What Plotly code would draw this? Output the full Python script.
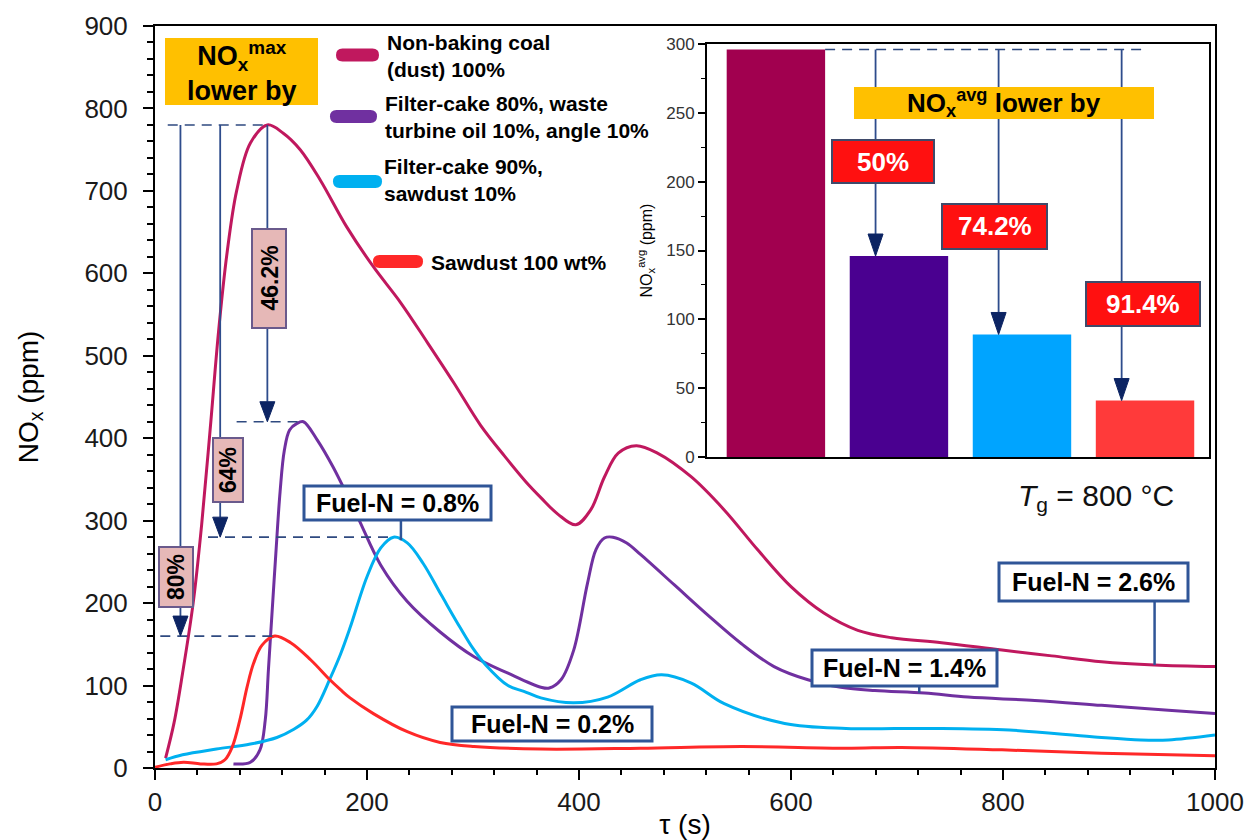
import numpy as np
import plotly.graph_objects as go

# ---------------------------------------------------------------- data
series_names = [
    "Non-baking coal<br>(dust) 100%",
    "Filter-cake 80%, waste<br>turbine oil 10%, angle 10%",
    "Filter-cake 90%,<br>sawdust 10%",
    "Sawdust 100 wt%",
]

tau_coal = [10, 18, 26, 36, 44, 52, 60, 68, 77, 90, 106, 121, 137, 156, 181, 206, 232, 257,
            282, 307, 330, 350, 364, 380, 397, 411, 424, 437, 454, 474, 506, 537, 569, 600,
            631, 663, 695, 742, 799, 846, 893, 943, 1000]
nox_coal = [12, 55, 115, 200, 295, 410, 530, 625, 700, 758, 780, 770, 750, 713, 656, 608, 564, 516,
            467, 416, 378, 347, 328, 308, 295, 313, 353, 382, 391, 382, 353, 313, 264, 220,
            188, 167, 158, 152, 143, 136, 129, 125, 123]

tau_cake_oil = [74, 90, 99, 104, 107, 110, 114, 118, 122, 127, 134, 140, 153, 168, 191, 213, 238,
                269, 301, 333, 364, 372, 383, 395, 408, 416, 424, 432, 445, 458, 490, 521, 553, 584,
                616, 647, 679, 726, 767, 830, 893, 956, 1000]
nox_cake_oil = [5, 7, 22, 58, 119, 180, 260, 335, 385, 410, 418, 420, 398, 365, 305, 246, 202,
                165, 135, 115, 98, 97, 107, 143, 224, 265, 279, 280, 273, 259, 222, 186, 151, 123,
                107, 98, 94, 91, 86, 82, 76, 70, 66]

tau_cake_saw = [10, 26, 58, 90, 115, 131, 143, 153, 165, 175, 184, 200, 213, 225, 238, 253, 270,
                288, 300, 312, 333, 348, 364, 395, 427, 458, 478, 506, 537, 594, 652, 730, 806,
                884, 930, 956, 1000]
nox_cake_saw = [10, 16, 23, 29, 37, 47, 58, 75, 108, 138, 170, 232, 267, 280, 273, 248, 210,
                170, 145, 125, 100, 93, 85, 79, 86, 107, 113, 103, 78, 54, 48, 48, 46,
                38, 34, 34, 40]

tau_sawdust = [0, 14, 27, 43, 58, 66, 73, 80, 87, 93, 101, 113, 128, 147, 165, 175, 184, 206,
               238, 269, 301, 364, 458, 553, 652, 704, 799, 893, 1000]
nox_sawdust = [1, 5, 7, 5, 5, 10, 26, 58, 99, 127, 149, 160, 152, 131, 107, 95, 85, 66,
               44, 31, 26, 23, 24, 26, 24, 25, 22, 18, 15]

# average NOx of each fuel (inset bars)
avg_nox = [296, 146, 89, 41]

# labels
max_drop_labels = ["80%", "64%", "46.2%"]      # peak reduction vs. coal
avg_drop_labels = ["50%", "74.2%", "91.4%"]     # average reduction vs. coal
fuel_n_labels = ["Fuel-N = 2.6%", "Fuel-N = 1.4%", "Fuel-N = 0.8%", "Fuel-N = 0.2%"]
x_ticks = [0, 200, 400, 600, 800, 1000]
y_ticks = [0, 100, 200, 300, 400, 500, 600, 700, 800, 900]
inset_ticks = [0, 50, 100, 150, 200, 250, 300]

# ---------------------------------------------------------------- styling
FONT = "Liberation Sans, Arial, Helvetica, sans-serif"
line_colors = ["#C0185E", "#7030A0", "#00B0F0", "#FF2828"]
bar_colors = ["#A1004F", "#4A0090", "#00A4FF", "#FF3A3A"]
ARROW_LINE = "#2E4C8C"
ARROW_HEAD = "#0C2463"
DASH = "#2F4A80"
BOX_EDGE = "#2F5597"

FIG_W, FIG_H = 1248, 840
AREA_L, AREA_R, AREA_T, AREA_B = 155, 1215, 26, 768
X_RANGE = [0, 1000]
Y_RANGE = [0, 900]
INSET_L, INSET_R, INSET_T, INSET_B = 707, 1209, 44, 457
INSET_X_RANGE = [-0.56, 3.52]
INSET_Y_RANGE = [0, 300]

AREA_W = AREA_R - AREA_L
AREA_H = AREA_B - AREA_T


def paper_x(px):
    return (px - AREA_L) / AREA_W


def paper_y(py):
    return (AREA_B - py) / AREA_H


def main_y(py):
    return Y_RANGE[0] + (AREA_B - py) * (Y_RANGE[1] - Y_RANGE[0]) / AREA_H


def inset_x(px):
    return INSET_X_RANGE[0] + (px - INSET_L) * (INSET_X_RANGE[1] - INSET_X_RANGE[0]) / (INSET_R - INSET_L)


shapes = []
annotations = []


def v_arrow(xref, yref, x, y_from, y_to, head_w, head_h, width=1.8):
    """Vertical arrow pointing down from y_from to y_to with a filled triangular head."""
    shapes.append(dict(type="line", xref=xref, yref=yref, x0=x, x1=x, y0=y_from, y1=y_to + head_h,
                       line=dict(color=ARROW_LINE, width=width), layer="above"))
    shapes.append(dict(type="path", xref=xref, yref=yref,
                       path=f"M {x - head_w / 2},{y_to + head_h} L {x + head_w / 2},{y_to + head_h} L {x},{y_to} Z",
                       fillcolor=ARROW_HEAD, line=dict(color=ARROW_HEAD, width=1), layer="above"))


def px_box(x0, y0, x1, y1, fill, edge, width):
    shapes.append(dict(type="rect", xref="paper", yref="paper",
                       x0=paper_x(x0), x1=paper_x(x1), y0=paper_y(y1), y1=paper_y(y0),
                       fillcolor=fill, line=dict(color=edge, width=width), layer="above"))


def px_text(cx, cy, text, size, color="black", angle=0, xanchor="center", align="center"):
    annotations.append(dict(xref="paper", yref="paper", x=paper_x(cx), y=paper_y(cy), text=text,
                            showarrow=False, xanchor=xanchor, yanchor="middle", textangle=angle,
                            align=align, font=dict(family=FONT, size=size, color=color)))


def pill_path(x0, x1, yc, thick):
    r = thick / 2

    def p(px, py):
        return f"{paper_x(px):.5f},{paper_y(py):.5f}"

    return (f"M {p(x0 + r, yc - r)} L {p(x1 - r, yc - r)} Q {p(x1, yc - r)} {p(x1, yc)} "
            f"Q {p(x1, yc + r)} {p(x1 - r, yc + r)} L {p(x0 + r, yc + r)} "
            f"Q {p(x0, yc + r)} {p(x0, yc)} Q {p(x0, yc - r)} {p(x0 + r, yc - r)} Z")


# ---------------------------------------------------------------- traces
fig = go.Figure()
series = [(tau_coal, nox_coal), (tau_cake_oil, nox_cake_oil),
          (tau_cake_saw, nox_cake_saw), (tau_sawdust, nox_sawdust)]
for (tau, nox), color, name in zip(series, line_colors, series_names):
    fig.add_trace(go.Scatter(x=tau, y=nox, mode="lines", name=name.replace("<br>", " "),
                             line=dict(color=color, width=3, shape="spline", smoothing=1.0),
                             showlegend=False, xaxis="x", yaxis="y"))

fig.add_trace(go.Bar(x=list(range(len(avg_nox))), y=avg_nox, width=0.8,
                     marker=dict(color=bar_colors, line=dict(width=0)),
                     showlegend=False, xaxis="x2", yaxis="y2"))

# ---------------------------------------------------------------- peak-reduction markup (main plot)
peaks = []
for tau, nox in series:
    i = int(np.argmax(nox))
    peaks.append((tau[i], nox[i]))
coal_peak = peaks[0][1]

dash_starts = [12, 77, 50, 5]  # left end (s) of each dashed peak line
for (t_pk, v_pk), t0 in zip(peaks, dash_starts):
    shapes.append(dict(type="line", xref="x", yref="y", x0=t0, x1=t_pk, y0=v_pk, y1=v_pk,
                       line=dict(color=DASH, width=1.6, dash="10px,7px"), layer="above"))

head_w_main = 15 * (X_RANGE[1] - X_RANGE[0]) / AREA_W
head_h_main = 20 * (Y_RANGE[1] - Y_RANGE[0]) / AREA_H
arrow_taus = [24, 61.5, 106]
targets = [peaks[3][1], peaks[2][1], peaks[1][1]]
for t, v in zip(arrow_taus, targets):
    v_arrow("x", "y", t, coal_peak, v, head_w_main, head_h_main)

# rotated percentage tags
tag_boxes = [(159, 547, 193, 607), (213, 438, 243, 502), (252, 229, 286, 328)]
for (x0, y0, x1, y1), lab in zip(tag_boxes, max_drop_labels):
    px_box(x0, y0, x1, y1, "#E6B8B7", "#6A5A8C", 2)
    px_text((x0 + x1) / 2, (y0 + y1) / 2, f"<b>{lab}</b>", 23, angle=-90)

# yellow header
px_box(165, 38, 318, 105, "#FFC000", "#FFC000", 0)
px_text(242, 72, "<b>NO<sub>x</sub><sup>max</sup><br>lower by</b>", 27)

# ---------------------------------------------------------------- Fuel-N call-outs
fuel_boxes = [(999, 563, 1188, 601), (812, 650, 997, 686), (304, 486, 491, 520), (452, 707, 652, 741)]
fuel_pointers = [(943, tau_coal, nox_coal), (721, tau_cake_oil, nox_cake_oil),
                 (232, tau_cake_saw, nox_cake_saw), None]
for (x0, y0, x1, y1), ptr, lab in zip(fuel_boxes, fuel_pointers, fuel_n_labels):
    if ptr is not None:
        t, tau, nox = ptr
        v = float(np.interp(t, tau, nox))
        shapes.append(dict(type="line", xref="x", yref="y", x0=t, x1=t, y0=v, y1=main_y(y1),
                           line=dict(color=BOX_EDGE, width=2.5), layer="above"))
    px_box(x0, y0, x1, y1, "white", BOX_EDGE, 3)
    px_text((x0 + x1) / 2, (y0 + y1) / 2, f"<b>{lab}</b>", 25)

px_text(1096, 497, "<i>T</i><sub>g</sub> = 800 °C", 30, color="#111111")

# ---------------------------------------------------------------- legend (drawn by hand)
swatches = [(336, 379, 55), (330, 377, 116.5), (333, 382, 181.5), (373, 423, 261.5)]
text_pos = [(385, 55.5), (383, 117), (382, 179.5), (429, 262)]
for (x0, x1, yc), (tx, ty), color, name in zip(swatches, text_pos, line_colors, series_names):
    shapes.append(dict(type="path", xref="paper", yref="paper", path=pill_path(x0, x1, yc, 13),
                       fillcolor=color, line=dict(color=color, width=0), layer="above"))
    px_text(tx, ty, f"<b>{name}</b>", 21, xanchor="left", align="left")

# ---------------------------------------------------------------- inset markup
base = avg_nox[0]
shapes.append(dict(type="line", xref="x2", yref="y2", x0=0.4, x1=inset_x(1145), y0=base, y1=base,
                   line=dict(color=DASH, width=1.6, dash="10px,7px"), layer="above"))
head_w_in = 15 * (INSET_X_RANGE[1] - INSET_X_RANGE[0]) / (INSET_R - INSET_L)
head_h_in = 22 * (INSET_Y_RANGE[1] - INSET_Y_RANGE[0]) / (INSET_B - INSET_T)
for i in range(1, len(avg_nox)):
    v_arrow("x2", "y2", i - 0.19, base, avg_nox[i], head_w_in, head_h_in)

px_box(854, 87, 1154, 119, "#FFC000", "#FFC000", 0)
px_text(1004, 103, "<b>NO<sub>x</sub><sup>avg</sup> lower by</b>", 26)

red_boxes = [(832, 140, 934, 183), (942, 204, 1047, 249), (1086, 282, 1200, 326)]
for (x0, y0, x1, y1), lab in zip(red_boxes, avg_drop_labels):
    px_box(x0, y0, x1, y1, "#FF1010", "#3F4A6A", 2)
    px_text((x0 + x1) / 2, (y0 + y1) / 2, f"<b>{lab}</b>", 26, color="white")

# ---------------------------------------------------------------- layout
axis_common = dict(showline=True, linewidth=2, linecolor="black", mirror=True,
                   showgrid=False, zeroline=False, automargin=False)

fig.update_layout(
    width=FIG_W, height=FIG_H,
    margin=dict(l=AREA_L, r=FIG_W - AREA_R, t=AREA_T, b=FIG_H - AREA_B),
    paper_bgcolor="white", plot_bgcolor="white",
    font=dict(family=FONT, color="black"),
    xaxis=dict(domain=[0, 1], anchor="y", range=X_RANGE, tickvals=x_ticks,
               ticks="outside", ticklen=10, tickwidth=2, tickcolor="black",
               minor=dict(dtick=40, tick0=0, ticks="outside", ticklen=5, tickwidth=1.5, tickcolor="black"),
               tickfont=dict(size=26, color="#1a1a1a"),
               title=dict(text="τ (s)", font=dict(size=28), standoff=10), **axis_common),
    yaxis=dict(domain=[0, 1], anchor="x", range=Y_RANGE, tickvals=y_ticks,
               ticks="outside", ticklen=10, tickwidth=2, tickcolor="black", ticklabelstandoff=10,
               minor=dict(dtick=20, tick0=0, ticks="outside", ticklen=6, tickwidth=1.5, tickcolor="black"),
               tickfont=dict(size=26, color="#1a1a1a"),
               title=dict(text="NO<sub>x</sub> (ppm)", font=dict(size=28), standoff=38), **axis_common),
    xaxis2=dict(domain=[paper_x(INSET_L), paper_x(INSET_R)], anchor="y2", range=INSET_X_RANGE,
                showticklabels=False, ticks="", **axis_common),
    yaxis2=dict(domain=[paper_y(INSET_B), paper_y(INSET_T)], anchor="x2", range=INSET_Y_RANGE,
                tickvals=inset_ticks, ticks="outside", ticklen=7, tickwidth=1.5, tickcolor="black",
                minor=dict(dtick=25, tick0=0, ticks="outside", ticklen=4, tickwidth=1.2, tickcolor="black"),
                tickfont=dict(size=17, color="#333333"),
                title=dict(text="NO<sub>x</sub><sup>avg</sup> (ppm)", font=dict(size=16), standoff=10),
                **axis_common),
    shapes=shapes,
    annotations=annotations,
)

fig.write_html("out.html")
